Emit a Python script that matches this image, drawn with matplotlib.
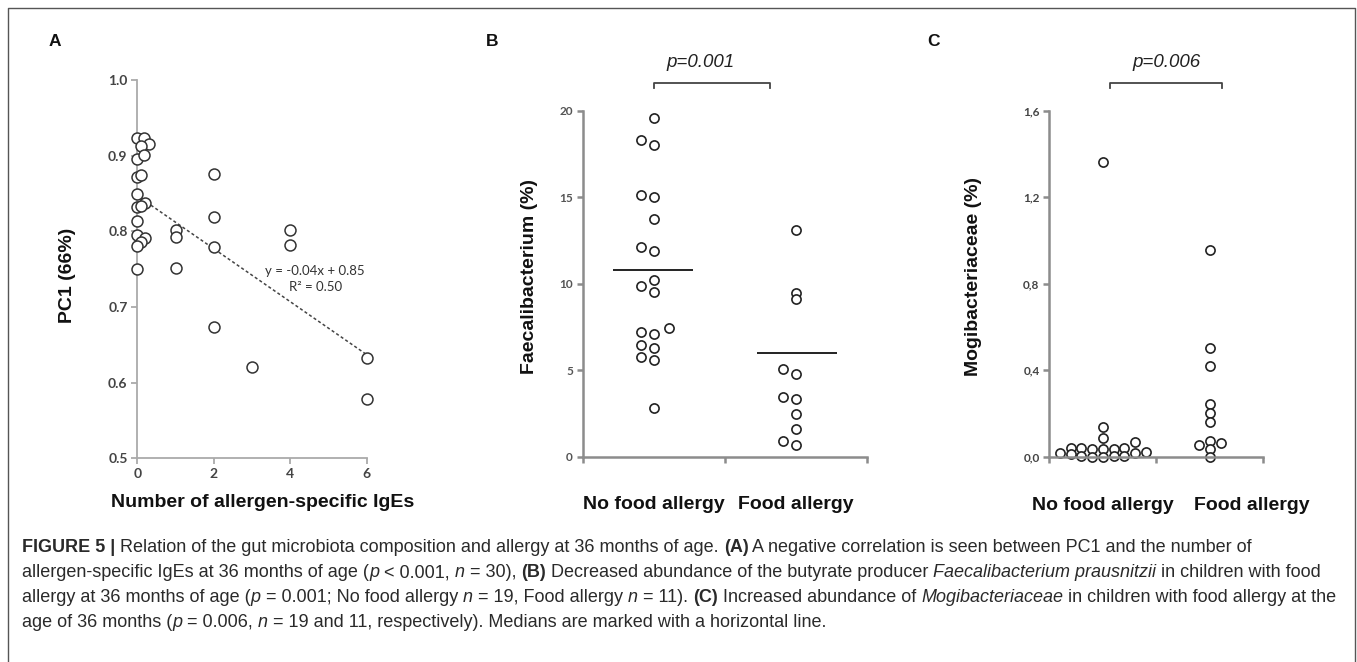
import numpy as np
import matplotlib
matplotlib.use('Agg')
import matplotlib.pyplot as plt
from matplotlib.transforms import IdentityTransform, blended_transform_factory
from matplotlib.lines import Line2D

# ---- panel A: PC1 vs number of allergen-specific IgEs
a_x = [0, 0.18, 0.3, 0.1, 0, 0.18, 0, 0.1, 0, 0.2, 0, 0.1, 0, 0, 0.2, 0.1, 0, 0,
       1, 1, 1, 2, 2, 2, 2, 3, 4, 4, 6, 6]
a_y = [0.923, 0.923, 0.915, 0.913, 0.895, 0.901, 0.872, 0.874, 0.849, 0.838, 0.832,
       0.834, 0.814, 0.795, 0.791, 0.786, 0.780, 0.750,
       0.802, 0.792, 0.752, 0.876, 0.819, 0.779, 0.673, 0.621, 0.802, 0.782, 0.633, 0.578]
trend_x = [0, 6]
trend_y = [0.847, 0.637]

# ---- panel B: Faecalibacterium (%)
b_no_x = [0.5, 0.41, 0.5, 0.41, 0.5, 0.5, 0.41, 0.5, 0.5, 0.41, 0.5, 0.61, 0.41, 0.5,
          0.41, 0.5, 0.41, 0.5, 0.5]
b_no_y = [19.56, 18.30, 18.0, 15.1, 15.03, 13.76, 12.12, 11.9, 10.2, 9.88, 9.54, 7.44,
          7.23, 7.07, 6.44, 6.26, 5.78, 5.57, 2.79]
b_fa_x = [1.5, 1.5, 1.5, 1.41, 1.5, 1.41, 1.5, 1.5, 1.5, 1.41, 1.5]
b_fa_y = [13.1, 9.44, 9.09, 5.09, 4.76, 3.47, 3.33, 2.47, 1.62, 0.92, 0.66]
b_median = [10.79, 5.97]

# ---- panel C: Mogibacteriaceae (%)
c_no_x = [0.5, 0.5, 0.5, 0.8, 0.1, 0.2, 0.2, 0.3, 0.3, 0.4, 0.4, 0.5, 0.5, 0.6, 0.6,
          0.7, 0.7, 0.8, 0.9]
c_no_y = [1.361, 0.136, 0.088, 0.066, 0.015, 0.039, 0.012, 0.039, 0.003, 0.034, 0.0,
          0.034, 0.0, 0.034, 0.003, 0.039, 0.003, 0.015, 0.023]
c_fa_x = [1.5, 1.5, 1.5, 1.5, 1.5, 1.5, 1.5, 1.4, 1.6, 1.5, 1.5]
c_fa_y = [0.956, 0.501, 0.419, 0.244, 0.200, 0.162, 0.074, 0.054, 0.065, 0.034, 0.0]

groups = ['No food allergy', 'Food allergy']
W, H = 1357, 662

plt.rcParams['font.family'] = ['Liberation Sans', 'DejaVu Sans']
fig = plt.figure(figsize=(W / 100, H / 100), dpi=100)


def px_axes(x0, x1, y_top, y_bot):
    return fig.add_axes([x0 / W, 1 - y_bot / H, (x1 - x0) / W, (y_bot - y_top) / H])


def style_axes(ax, spine_c, lw, tick_c, tsize):
    for s in ['top', 'right']:
        ax.spines[s].set_visible(False)
    for s in ['left', 'bottom']:
        ax.spines[s].set_color(spine_c)
        ax.spines[s].set_linewidth(lw)
    ax.tick_params(direction='out', length=4, width=lw, color=spine_c,
                   labelsize=tsize, labelcolor=tick_c, pad=3)
    for lab in ax.get_yticklabels():
        lab.set_family(['Lato', 'DejaVu Sans'])
        lab.set_fontweight('bold')


def ftext(px, py, s, **kw):
    fig.text(px / W, 1 - py / H, s, **kw)


# panel A
ax1 = px_axes(137.3, 366.7, 80, 458.3)
ax1.plot(a_x, a_y, 'o', ms=7.9, mfc='white', mec='#333333', mew=1.1, clip_on=False, zorder=3)
ax1.plot(trend_x, trend_y, ls=(0, (2, 1.6)), color='#444444', lw=1.1, zorder=2)
ax1.text(4.65, 0.747, 'y = -0.04x + 0.85', ha='center', va='center', fontsize=9.5,
         color='#333333', family=['Lato', 'DejaVu Sans'])
ax1.text(4.65, 0.727, 'R² = 0.50', ha='center', va='center', fontsize=9.5,
         color='#333333', family=['Lato', 'DejaVu Sans'])
ax1.set_xlim(0, 6)
ax1.set_ylim(0.5, 1.0)
ax1.set_xticks([0, 2, 4, 6])
ax1.set_yticks([0.5, 0.6, 0.7, 0.8, 0.9, 1.0])
ax1.set_yticklabels(['0.5', '0.6', '0.7', '0.8', '0.9', '1.0'])
ax1.set_xticklabels(['0', '2', '4', '6'])
style_axes(ax1, '#aaaaaa', 1.3, '#444444', 10)
for lab in ax1.get_xticklabels():
    lab.set_family(['Lato', 'DejaVu Sans'])
    lab.set_fontweight('bold')
ax1.text(0.546, -0.118, 'Number of allergen-specific IgEs', transform=ax1.transAxes,
         ha='center', va='center', fontsize=14, fontweight='bold', color='#111111')

# panel B
ax2 = px_axes(582.7, 866.7, 110.7, 456.7)
ax2.plot(b_no_x, b_no_y, 'o', ms=6.6, mfc='white', mec='#222222', mew=1.2, clip_on=False)
ax2.plot(b_fa_x, b_fa_y, 'o', ms=6.6, mfc='white', mec='#222222', mew=1.2, clip_on=False)
ax2.hlines(b_median[0], 0.216, 0.779, color='#111111', lw=1.3)
ax2.hlines(b_median[1], 1.225, 1.789, color='#111111', lw=1.3)
ax2.set_xlim(0, 2)
ax2.set_ylim(0, 20)
ax2.set_xticks([0, 1, 2])
ax2.set_xticklabels([])
ax2.set_yticks([0, 5, 10, 15, 20])
ax2.set_yticklabels(['0', '5', '10', '15', '20'])
style_axes(ax2, '#8c8c8c', 1.8, '#555555', 8.5)
tb = blended_transform_factory(ax2.transData, ax2.transAxes)
for xpos, g in zip([0.5, 1.5], groups):
    ax2.text(xpos, -0.137, g, transform=tb, ha='center', va='center', fontsize=14,
             fontweight='bold', color='#111111')
ax2.plot([0.5, 0.5, 1.32, 1.32], [21.3, 21.6, 21.6, 21.3], color='#444444', lw=1.3,
         clip_on=False)
ax2.text(0.833, 22.8, 'p=0.001', ha='center', va='center', fontsize=13.5,
         fontstyle='italic', color='#222222')

# panel C
ax3 = px_axes(1049.3, 1263.3, 110.7, 456.7)
ax3.plot(c_no_x, c_no_y, 'o', ms=6.6, mfc='white', mec='#222222', mew=1.2, clip_on=False)
ax3.plot(c_fa_x, c_fa_y, 'o', ms=6.6, mfc='white', mec='#222222', mew=1.2, clip_on=False)
ax3.set_xlim(0, 2)
ax3.set_ylim(0, 1.6)
ax3.set_xticks([0, 1, 2])
ax3.set_xticklabels([])
ax3.set_yticks([0, 0.4, 0.8, 1.2, 1.6])
ax3.set_yticklabels(['0,0', '0,4', '0,8', '1,2', '1,6'])
style_axes(ax3, '#8c8c8c', 1.8, '#444444', 8.5)
tc = blended_transform_factory(ax3.transData, ax3.transAxes)
for xpos, g in zip([0.5, 1.89], groups):
    ax3.text(xpos, -0.14, g, transform=tc, ha='center', va='center', fontsize=14,
             fontweight='bold', color='#111111')
ax3.plot([0.567, 0.567, 1.614, 1.614], [1.705, 1.728, 1.728, 1.705], color='#444444',
         lw=1.3, clip_on=False)
ax3.text(1.10, 1.825, 'p=0.006', ha='center', va='center', fontsize=13.5,
         fontstyle='italic', color='#222222')

# y labels and panel letters
ftext(67, 275, 'PC1 (66%)', rotation=90, ha='center', va='center', fontsize=14,
      fontweight='bold', color='#111111')
ftext(530, 276, 'Faecalibacterium (%)', rotation=90, ha='center', va='center',
      fontsize=14, fontweight='bold', color='#111111')
ftext(973, 277, 'Mogibacteriaceae (%)', rotation=90, ha='center', va='center',
      fontsize=14, fontweight='bold', color='#111111')
for px, letter in zip([55, 492, 933], ['A', 'B', 'C']):
    ftext(px, 42, letter, ha='center', va='center', fontsize=12.5, fontweight='bold',
          color='#111111')

# frame round the figure (open at the bottom)
fig.add_artist(Line2D([7.5 / W, 7.5 / W, 1355 / W, 1355 / W],
                      [0, 1 - 8 / H, 1 - 8 / H, 0], color='#555555', lw=1.0,
                      transform=fig.transFigure))

# caption, built run by run
N, B, I = ('normal', 'normal'), ('bold', 'normal'), ('normal', 'italic')
caption = [
    [("FIGURE 5 | ", B), ("Relation of the gut microbiota composition and allergy at 36 months of age. ", N),
     ("(A)", B), (" A negative correlation is seen between PC1 and the number of", N)],
    [("allergen-specific IgEs at 36 months of age (", N), ("p", I), (" < 0.001, ", N), ("n", I),
     (" = 30), ", N), ("(B)", B), (" Decreased abundance of the butyrate producer ", N),
     ("Faecalibacterium prausnitzii", I), (" in children with food", N)],
    [("allergy at 36 months of age (", N), ("p", I), (" = 0.001; No food allergy ", N), ("n", I),
     (" = 19, Food allergy ", N), ("n", I), (" = 11). ", N), ("(C)", B),
     (" Increased abundance of ", N), ("Mogibacteriaceae", I),
     (" in children with food allergy at the", N)],
    [("age of 36 months (", N), ("p", I), (" = 0.006, ", N), ("n", I),
     (" = 19 and 11, respectively). Medians are marked with a horizontal line.", N)],
]
cap_family = ['Liberation Sans', 'DejaVu Sans']
cap_size = 13
renderer = fig.canvas.get_renderer()


def run_width(s, weight, style):
    t1 = fig.text(0, 0, '|' + s + '|', fontsize=cap_size, fontweight=weight,
                  fontstyle=style, family=cap_family)
    t2 = fig.text(0, 0, '||', fontsize=cap_size, fontweight=weight,
                  fontstyle=style, family=cap_family)
    w = t1.get_window_extent(renderer).width - t2.get_window_extent(renderer).width
    t1.remove()
    t2.remove()
    return w


for i, line in enumerate(caption):
    x = 22
    y = H - (548 + 24.7 * i)
    for s, (weight, style) in line:
        fig.text(x, y, s, transform=IdentityTransform(), fontsize=cap_size,
                 fontweight=weight, fontstyle=style, family=cap_family,
                 va='center', ha='left', color='#2a2a2a')
        x += run_width(s, weight, style)

fig.savefig('out.png', dpi=100)
